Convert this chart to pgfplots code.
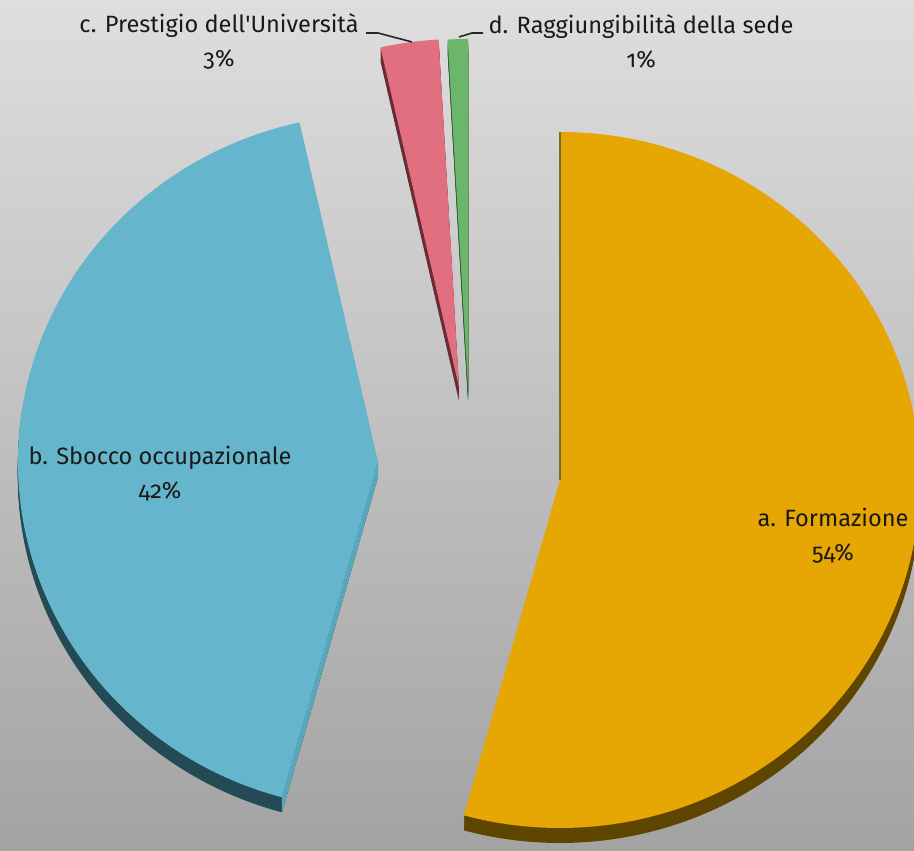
\documentclass[border=0pt]{standalone}
\usepackage{pgfplots}
\pgfplotsset{compat=1.18}
\usepackage{fontspec}
\setmainfont{Fira Sans}[Numbers=OldStyle]
\definecolor{bgtop}{HTML}{DEDEDE}
\definecolor{bgbot}{HTML}{A3A3A3}
\definecolor{sliceA}{HTML}{E6A603}
\definecolor{rimA}{HTML}{5E4500}
\definecolor{sliceB}{HTML}{65B6CC}
\definecolor{rimB}{HTML}{244A55}
\definecolor{cutB}{HTML}{58A8BD}
\definecolor{sliceC}{HTML}{E26F7F}
\definecolor{rimC}{HTML}{6B2B35}
\definecolor{sliceD}{HTML}{6CB66C}
\definecolor{rimD}{HTML}{2E5C30}
% data (percent)
\def\va{54.3}\def\vb{42.2}\def\vc{2.6}\def\vd{0.9}
\pgfmathsetmacro\ta{90}
\pgfmathsetmacro\tb{\ta-3.6*\va}
\pgfmathsetmacro\tc{\tb-3.6*\vb}
\pgfmathsetmacro\td{\tc-3.6*\vc}
\pgfmathsetmacro\te{\td-3.6*\vd}
% cut face of b
\pgfmathsetmacro\pbx{378+360*cos(\tb)}
\pgfmathsetmacro\pby{388+348*sin(\tb)}
\pgfmathsetmacro\pbyy{\pby-15}
\newcommand\sector[6]{%
  \fill[#5,yshift=#6] (axis cs:#1,#2) -- ++(#3:180pt and 174pt)
    arc[start angle=#3,end angle=#4,x radius=180pt,y radius=174pt] -- cycle;}
\begin{document}
\begin{tikzpicture}
\begin{axis}[name=ax,x=0.5pt,y=0.5pt,xmin=0,xmax=914,ymin=0,ymax=850,
  hide axis,clip=true]
\fill[top color=bgtop,bottom color=bgbot] (axis cs:0,0) rectangle (axis cs:914,850);
% slice a
\pgfplotsinvokeforeach{1,2,3,4,5,6,7,7.5}{\sector{560}{370}{\ta}{\tb}{rimA}{-#1pt}}
\sector{560}{370}{\ta}{\tb}{sliceA}{0pt}
\draw[rimA!80,line width=0.6pt] (axis cs:560,370) -- (axis cs:560,718);
% slice b
\pgfplotsinvokeforeach{1,2,3,4,5,6,7,7.5}{\sector{378}{388}{\tb}{\tc}{rimB}{-#1pt}}
\fill[cutB] (axis cs:378,388) -- (axis cs:\pbx,\pby) -- (axis cs:\pbx,\pbyy) -- (axis cs:378,373) -- cycle;
\sector{378}{388}{\tb}{\tc}{sliceB}{0pt}
% slice c
\pgfplotsinvokeforeach{1,2,3,4,5,6,7}{\sector{459}{463}{\tc}{\td}{rimC}{-#1pt}}
\sector{459}{463}{\tc}{\td}{sliceC}{0pt}
% slice d
\pgfplotsinvokeforeach{1,2,3,4,5,6,7}{\sector{468}{463}{\td}{\te}{rimD}{-#1pt}}
\sector{468}{463}{\td}{\te}{sliceD}{0pt}
% leader lines
\draw[black!85,line width=0.8pt] (axis cs:366,817) -- (axis cs:378,817) -- (axis cs:412,808);
\draw[black!85,line width=0.8pt] (axis cs:483,817) -- (axis cs:472,817) -- (axis cs:459,813);
% labels
\begin{scope}[every node/.style={font=\fontsize{11.8}{17}\selectfont,align=center,text=black!90,inner sep=0pt}]
\node at (axis cs:833,314.5) {a. Formazione\\54\%};
\node at (axis cs:160,376.5) {b. Sbocco occupazionale\\42\%};
\node at (axis cs:219,809) {c. Prestigio dell\textquotesingle Università\\3\%};
\node at (axis cs:641,809) {d. Raggiungibilità della sede\\1\%};
\end{scope}
\end{axis}
\pgfresetboundingbox
\useasboundingbox (ax.south west) rectangle (ax.north east);
\end{tikzpicture}
\end{document}
